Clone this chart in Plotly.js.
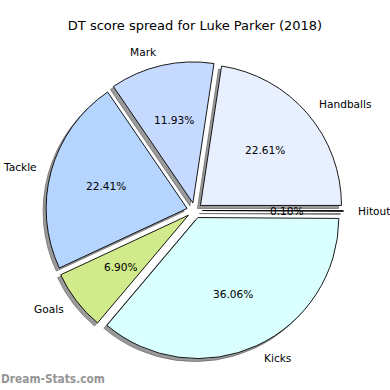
<!DOCTYPE html>
<html>
<head>
<meta charset="utf-8">
<script src="https://cdn.plot.ly/plotly-3.0.1.min.js"></script>
<style>html,body{margin:0;padding:0;background:#fff}#chart{width:390px;height:390px}</style>
</head>
<body>
<div id="chart"></div>
<script>
const labels = ['Handballs', 'Mark', 'Tackle', 'Goals', 'Kicks', 'Hitout'];
const values = [22.61, 11.93, 22.41, 6.90, 36.06, 0.10];
const colors = ['#e8f0ff', '#c6d9ff', '#b5d5ff', '#d1ea8c', '#d9ffff', '#ffd6d6'];
const titleText = 'DT score spread for Luke Parker (2018)';
const watermark = 'Dream-Stats.com';

const W = 390, H = 390;
const CX = 194.6, CY = 210.5, R = 141, PULL = 0.055;
const SHX = -3, SHY = 3;
const FONT = 'DejaVu Sans, sans-serif';

const total = values.reduce((a, b) => a + b, 0);
const half = R * (1 + PULL);
function dom(cx, cy) {
  return {
    x: [(cx - half) / W, (cx + half) / W],
    y: [1 - (cy + half) / H, 1 - (cy - half) / H]
  };
}
// plotly draws clockwise from 3 o'clock: reverse matplotlib's counterclockwise order
const rLabels = labels.slice().reverse();
const rValues = values.slice().reverse();
const rColors = colors.slice().reverse();

const shadow = {
  type: 'pie', labels: rLabels, values: rValues, sort: false,
  direction: 'clockwise', rotation: 90, pull: rValues.map(() => PULL),
  domain: dom(CX + SHX, CY + SHY), textinfo: 'none', hoverinfo: 'skip',
  marker: { colors: rValues.map(() => '#9a9a9a'), line: { color: '#707070', width: 0.8 } },
  showlegend: false
};
const main = {
  type: 'pie', labels: rLabels, values: rValues, sort: false,
  direction: 'clockwise', rotation: 90, pull: rValues.map(() => PULL),
  domain: dom(CX, CY), textinfo: 'none', hoverinfo: 'skip',
  marker: { colors: rColors, line: { color: '#000', width: 0.9 } },
  showlegend: false
};

const annotations = [];
let cum = 0;
values.forEach((v, i) => {
  const mid = (cum + v / 2) / total * 2 * Math.PI;
  cum += v;
  const dx = Math.cos(mid), dy = Math.sin(mid);
  const lr = (1.1 + PULL) * R, pr = (0.6 + PULL) * R;
  annotations.push({
    xref: 'paper', yref: 'paper', showarrow: false, borderpad: 0,
    x: (CX + lr * dx) / W, y: 1 - (CY - lr * dy) / H,
    xanchor: dx > 0 ? 'left' : 'right', yanchor: 'middle',
    text: labels[i], font: { family: FONT, size: 10.6, color: '#000' }
  });
  annotations.push({
    xref: 'paper', yref: 'paper', showarrow: false, borderpad: 0,
    x: (CX + pr * dx) / W, y: 1 - (CY - pr * dy) / H,
    xanchor: 'center', yanchor: 'middle',
    text: (v / total * 100).toFixed(2) + '%', font: { family: FONT, size: 10.6, color: '#000' }
  });
});
annotations.push({
  xref: 'paper', yref: 'paper', showarrow: false, borderpad: 0,
  x: 0, y: 1 - 379 / H, xanchor: 'left', yanchor: 'middle',
  text: '<b>' + watermark + '</b>', font: { family: 'DejaVu Sans Condensed, DejaVu Sans, sans-serif', size: 11.8, color: '#959595' }
});

const layout = {
  width: W, height: H,
  margin: { l: 0, r: 0, t: 0, b: 0 },
  paper_bgcolor: '#fff', plot_bgcolor: '#fff',
  title: { text: titleText, x: 0.5, xanchor: 'center', y: 1 - 25 / H, yanchor: 'middle', yref: 'container',
           font: { family: FONT, size: 13, color: '#000' } },
  annotations: annotations,
  showlegend: false
};
Plotly.newPlot('chart', [shadow, main], layout, { staticPlot: true, displayModeBar: false });
</script>
</body>
</html>
